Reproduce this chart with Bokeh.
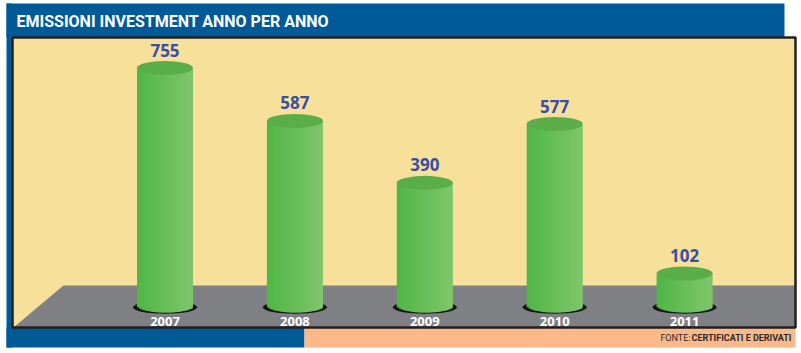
from bokeh.plotting import figure
from bokeh.models import Range1d, ColumnDataSource, Label
from bokeh.core.properties import value
from bokeh.embed import file_html
from bokeh.resources import INLINE

# ---- data ----
years = ["2007", "2008", "2009", "2010", "2011"]
emissioni = [755, 587, 390, 577, 102]
title_text = "EMISSIONI INVESTMENT ANNO PER ANNO"
source_label = "FONTE:"
source_name = "CERTIFICATI E DERIVATI"

# ---- layout (pixel geometry of the page) ----
W, H = 801, 353
X0, DX = 164.5, 129.9     # pixel centre of first column and spacing
BASE, S = 305.0, 0.3145   # pixel row of zero value, pixels per unit

BLUE = "#005a97"
YELLOW = "#f7e19a"
GRAY = "#7f8084"
SALMON = "#fbb98a"
BORDER = "#231f20"
NUMBLUE = "#3a4ea3"


def xd(px):
    return (px - X0) / DX


def yd(py):
    return (BASE - py) / S


p = figure(width=W, height=H,
           x_range=Range1d(xd(0), xd(W)), y_range=Range1d(yd(H), yd(0)),
           output_backend="svg", toolbar_location=None,
           x_axis_location=None, y_axis_location=None, min_border=0)
p.grid.visible = False
p.outline_line_color = None
p.background_fill_color = "white"
p.border_fill_color = "white"


def rect(x0, y0, x1, y1, color, **kw):
    p.quad(left=[xd(x0)], right=[xd(x1)], top=[yd(y0)], bottom=[yd(y1)],
           fill_color=color, line_color=None, **kw)


# frame
rect(6, 3, 784, 37, BLUE)
rect(6, 3, 12, 347, BLUE)
rect(6, 327, 304, 347, BLUE)
rect(304, 327, 795, 347, SALMON)
rect(12, 37, 795, 327, YELLOW)

# floor
p.patch(x=[xd(63), xd(795), xd(795), xd(13)],
        y=[yd(285), yd(285), yd(327), yd(327)],
        fill_color=GRAY, line_color=None)

# ---- cylinders ----
idx = list(range(len(years)))
bar_w_px = 56.0
ell_h_px = 14.0
bw = bar_w_px / DX

# shadow under each column
p.ellipse(x=idx, y=[-1.8 / S] * len(idx), width=64 / DX, height=13 / S,
          fill_color="#141414", line_color=None)


def mix(c1, c2, t):
    a = [int(c1[i:i + 2], 16) for i in (1, 3, 5)]
    b = [int(c2[i:i + 2], 16) for i in (1, 3, 5)]
    return "#%02x%02x%02x" % tuple(int(round(a[k] + (b[k] - a[k]) * t)) for k in range(3))


N = 28
L, R, T, B, C = [], [], [], [], []
for i, v in zip(idx, emissioni):
    for k in range(N):
        t = (k + 0.5) / N
        left = i - bw / 2 + k * bw / N
        L.append(left)
        R.append(left + (bw / N) * (1.8 if k < N - 1 else 1.0))
        T.append(v)
        depth = (ell_h_px / 2) * (max(0.0, 1 - (2 * t - 1) ** 2)) ** 0.5
        B.append(-depth / S)
        C.append(mix("#50b646", "#80c66c", t))

src = ColumnDataSource(dict(left=L, right=R, top=T, bottom=B, color=C))
p.quad(left="left", right="right", top="top", bottom="bottom",
       fill_color="color", line_color=None, source=src)

# top ellipses
p.ellipse(x=idx, y=emissioni, width=bw, height=ell_h_px / S,
          fill_color="#5aae49", line_color=None)

# value labels
p.text(x=idx, y=emissioni, text=[str(v) for v in emissioni],
       text_font=value("Open Sans"), text_font_style="bold", text_font_size="17px",
       text_color=NUMBLUE, text_align="center", text_baseline="middle",
       y_offset=-18)

# year labels
p.text(x=idx, y=[0] * len(idx), text=years,
       text_font=value("Open Sans"), text_font_style="bold", text_font_size="13px",
       text_color="white", text_align="center", text_baseline="middle",
       y_offset=16)

# panel border
p.quad(left=[xd(12)], right=[xd(795)], top=[yd(37)], bottom=[yd(327)],
       fill_color=None, line_color=BORDER, line_width=2.5)

# title
p.add_layout(Label(x=xd(16), y=yd(20.5), text=title_text,
                   text_font="Roboto", text_font_style="bold",
                   text_font_size="16px", text_color="white",
                   text_align="left", text_baseline="middle"))

# source
p.add_layout(Label(x=xd(791), y=yd(337), text=source_name,
                   text_font="Roboto", text_font_style="bold",
                   text_font_size="9px", text_color="#2a2a2a",
                   text_align="right", text_baseline="middle"))
p.add_layout(Label(x=xd(690), y=yd(337), text=source_label,
                   text_font="Roboto", text_font_style="normal",
                   text_font_size="9px", text_color="#2a2a2a",
                   text_align="right", text_baseline="middle"))

open("out.html", "w").write(file_html(p, INLINE))
